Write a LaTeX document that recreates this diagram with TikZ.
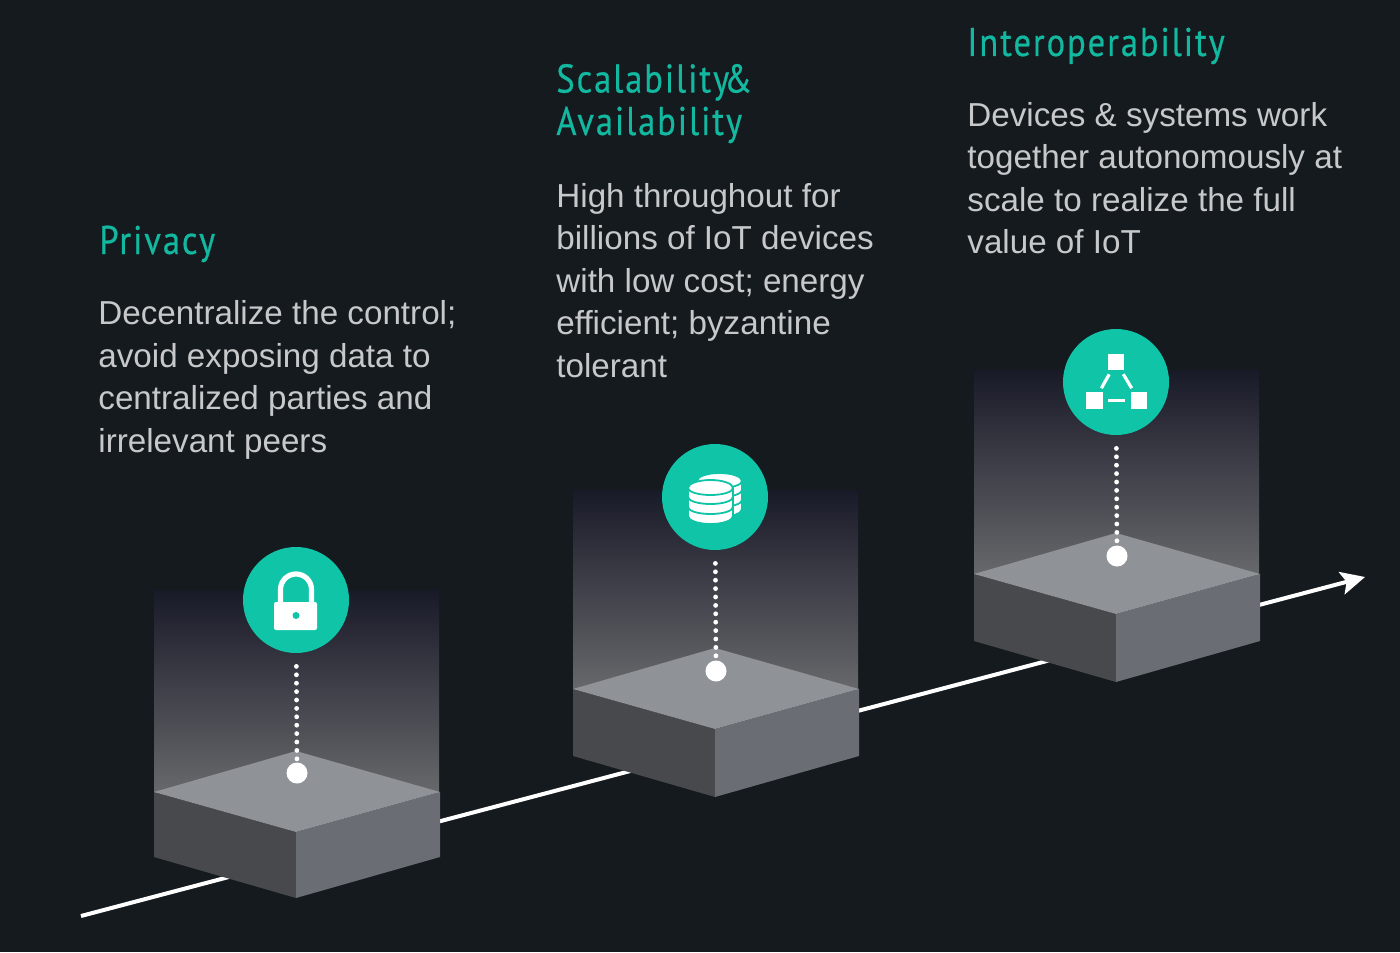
\documentclass[tikz,border=0pt]{standalone}
\usepackage{fontspec}
\usepackage{tikz}
\usetikzlibrary{arrows.meta}
\setmainfont{Liberation Sans}
\newfontfamily\titlefont[FakeStretch=0.86,LetterSpace=5,FakeBold=0.5]{PT Sans}
\definecolor{bgdark}{HTML}{151A1F}
\definecolor{teal}{HTML}{10C4A8}
\definecolor{titleteal}{HTML}{12B9A0}
\definecolor{bodygrey}{HTML}{C6C8CA}
\definecolor{glowtop}{HTML}{191A28}
\definecolor{glowbottom}{HTML}{67686B}
\definecolor{lidgrey}{HTML}{8F9397}
\definecolor{leftgrey}{HTML}{47494D}
\definecolor{rightgrey}{HTML}{6A6E74}
\tikzset{
    heading/.style={anchor=base west, inner sep=0pt, text=titleteal, align=left,
        font=\titlefont\fontsize{20}{21.25}\selectfont},
    blurb/.style={anchor=north west, inner sep=0pt, text=bodygrey, align=left,
        font=\fontsize{16.6}{21.25}\selectfont},
    disc/.style={circle, fill=teal, minimum size=53pt, inner sep=0pt},
    pin/.style={circle, fill=white, minimum size=10.5pt, inner sep=0pt},
    stem/.style={white, line width=2.4pt, line cap=round, dash pattern=on 0pt off 4.2pt},
    tile/.style={fill=white, minimum size=8.4pt, inner sep=0pt},
    link/.style={white, line width=1.6pt},
    seam/.style={teal, line width=0.9pt}
}
\begin{document}
\begin{tikzpicture}[x=0.5pt, y=-0.5pt]
    \useasboundingbox (0,0) rectangle (1400,952);
    \fill[bgdark] (0,0) rectangle (1400,952);

    % time line, runs behind the blocks
    \coordinate (start) at (81,916);
    \coordinate (end) at (1365,577);
    \draw[white, line width=2pt, -{Stealth[length=12pt, width=11.5pt, inset=2.5pt]}] (start) -- (end);

    % blocks
    \foreach \name/\dx/\dy/\glow/\pinat/\extra in {lock/0/0/590/773/0, stack/419/-103/593/774/2, net/820/-218/588/774/2} {
        \begin{scope}[shift={(\dx,\dy)}]
            \shade[top color=glowtop, bottom color=glowbottom] (154,\glow) rectangle (439,792);
            \fill[leftgrey] (154,792) -- (296,832) -- (296,898+\extra) -- (154,857+\extra) -- cycle;
            \fill[rightgrey] (440,792) -- (296,832) -- (296,898+\extra) -- (440,857+\extra) -- cycle;
            \fill[lidgrey] (154,792) -- (296,751) -- (440,792) -- (296,832) -- cycle;
            \node[disc] (\name disc) at (296,600) {};
            \node[pin] (\name pin) at (297,\pinat) {};
            \draw[stem, shorten <=6.5pt] (\name disc) -- (\name pin);
        \end{scope}
    }

    % lock icon
    \draw[white, line width=2.6pt] (280.5,606) -- (280.5,589.5) arc[start angle=180, end angle=360, radius=15.5] -- (311.5,606);
    \fill[white, rounded corners=1pt] (274,602) rectangle (317,630);
    \fill[teal] (296,615.5) circle[radius=3.5];

    % stack icon
    \foreach \sx/\sy in {9/-7, 0/0} {
        \begin{scope}[shift={(\sx,\sy)}]
            \fill[white, draw=teal, line width=0.9pt] (688,488) -- (688,516) arc[start angle=180, end angle=0, x radius=22.5, y radius=8] -- (733,488) arc[start angle=0, end angle=-180, x radius=22.5, y radius=8] -- cycle;
            \draw[seam] (688,488) arc[start angle=180, end angle=0, x radius=22.5, y radius=7];
            \draw[seam] (688,497) arc[start angle=180, end angle=0, x radius=22.5, y radius=7];
            \draw[seam] (688,507) arc[start angle=180, end angle=0, x radius=22.5, y radius=7];
        \end{scope}
    }

    % network icon
    \node[tile] (top) at (1116,362) {};
    \node[tile] (left) at (1094.5,400.5) {};
    \node[tile] (right) at (1139,400.5) {};
    \draw[link, shorten <=2pt, shorten >=2pt] (top) -- (left);
    \draw[link, shorten <=2pt, shorten >=2pt] (top) -- (right);
    \draw[link, shorten <=2.5pt, shorten >=2.5pt] (left) -- (right);

    % texts
    \node[heading] (privacy) at (99,254) {Privacy};
    \node[heading] (scalability) at (556,135) {Scalability\kern-2.5pt\&\\Availability};
    \node[heading] (interop) at (967,56) {Interoperability};
    \node[blurb] (privacytext) at (98,300.5) {Decentralize the control;\\avoid exposing data to\\centralized parties and\\irrelevant peers};
    \node[blurb] (scalabilitytext) at (556,183) {High throughout for\\billions of IoT devices\\with low cost; energy\\efficient; byzantine\\tolerant};
    \node[blurb] (interoptext) at (967,102) {Devices \& systems work\\together autonomously at\\scale to realize the full\\value of IoT};
\end{tikzpicture}
\end{document}
